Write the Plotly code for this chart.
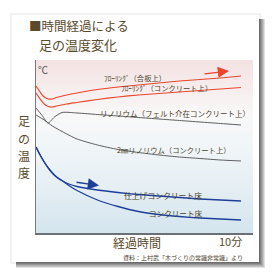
import plotly.graph_objects as go

# ---------------- data (time in minutes, temperature in relative units) ----------------
t_red1 = [0, 0.2, 0.4, 0.6, 0.8, 1.0, 1.5, 2, 3, 4, 5, 6, 7, 8, 9, 10]
v_red1 = [147, 141, 136, 134, 134, 135.5, 138, 140, 143.5, 146, 148, 150, 152, 153.5, 155, 157]

t_red2 = [0, 0.2, 0.4, 0.6, 0.8, 1.0, 1.5, 2, 3, 4, 5, 6, 7, 8, 9, 10]
v_red2 = [140, 134, 129, 126.5, 126, 127, 129, 130.5, 133.5, 136, 138, 139.5, 141, 142.5, 144, 145.5]

t_felt = [0, 0.3, 0.59, 0.9, 1.27, 2, 3, 4, 5, 6, 7, 8, 9, 10]
v_felt = [125, 117.5, 110, 116, 120.5, 120, 118.5, 117, 115.5, 114, 112.5, 111, 109.5, 108]

t_lino = [0, 0.4, 0.8, 1.5, 2, 3, 4, 5, 6, 7, 8, 9, 10]
v_lino = [118, 113, 107, 99, 94, 88, 83.5, 80.5, 78, 76, 74.5, 73, 72]

t_blue1 = [0, 0.2, 0.4, 0.6, 0.8, 1.0, 1.3, 1.6, 2, 3, 4, 5, 6, 7, 8, 9, 10]
v_blue1 = [86, 78, 71, 65, 60, 56, 52, 49, 46.5, 43, 40.5, 38.5, 37, 35.5, 34, 33, 32]

t_blue2 = [0, 0.2, 0.4, 0.6, 0.8, 1.0, 1.3, 1.6, 2, 3, 4, 5, 6, 7, 8, 9, 10]
v_blue2 = [86, 78, 71, 65, 60, 56, 52, 47.5, 42.5, 33, 26.5, 21.5, 18.5, 16.5, 15, 14, 13]

labels = ["ﾌﾛｰﾘﾝｸﾞ（合板上）", "ﾌﾛｰﾘﾝｸﾞ（コンクリート上）",
          "リノリウム（フェルト介在コンクリート上）", "2㎜リノリウム（コンクリート上）",
          "仕上げコンクリート床", "コンクリート床"]

title_lines = ["■時間経過による", "足の温度変化"]
y_title = "足の温度"
x_title = "経過時間"
x_end_label = "10分"
unit_label = "℃"
source_label = "資料：上村武「木づくりの常識非常識」より"

# ---------------- layout helpers ----------------
W, H = 272, 278
PL, PR, PT, PB = 36, 253, 60, 233          # plot area in pixels
X_PER_MIN = 20.5                            # pixels per minute
X_MAX = (PR - PL) / X_PER_MIN
Y_MAX = PB - PT

def px(x):
    return x / W

def py(y):
    return 1 - y / H

def dx(x):   # pixel -> data x
    return (x - PL) / X_PER_MIN

def dy(y):   # pixel -> data y
    return PB - y

FONT = "Noto Sans CJK JP"
TXT = "#4b4129"
TITLE_C = "#5a4a2c"

fig = go.Figure()

series = [
    (t_red1, v_red1, "#e8462d", 1.2),
    (t_red2, v_red2, "#e8462d", 1.2),
    (t_felt, v_felt, "#4d4d4d", 0.9),
    (t_lino, v_lino, "#4d4d4d", 0.9),
    (t_blue1, v_blue1, "#1d3f9a", 1.3),
    (t_blue2, v_blue2, "#1d3f9a", 1.3),
]
for t, v, c, w in series:
    fig.add_trace(go.Scatter(x=t, y=v, mode="lines",
                             line=dict(color=c, width=w, shape="spline", smoothing=0.7),
                             hoverinfo="skip", showlegend=False))

shapes = []
# shadow of card
shapes.append(dict(type="rect", xref="paper", yref="paper", layer="below",
                   x0=px(10), y0=py(13), x1=px(261), y1=py(264),
                   line=dict(width=0), fillcolor="rgba(0,0,0,0.05)"))
for k in range(6):
    shapes.append(dict(type="rect", xref="paper", yref="paper", layer="below",
                       x0=px(16), y0=py(19), x1=px(260 + k), y1=py(263 + k),
                       line=dict(width=0), fillcolor="rgba(0,0,0,0.12)"))
# card
shapes.append(dict(type="rect", xref="paper", yref="paper", layer="below",
                   x0=px(12), y0=py(15), x1=px(259), y1=py(262),
                   line=dict(width=0), fillcolor="white"))

# gradient background of the plot area
stops = [(60, (243, 226, 226)), (85, (246, 236, 236)), (115, (249, 248, 248)),
         (140, (242, 246, 248)), (180, (232, 240, 245)), (233, (212, 229, 238))]

def grad(yp):
    for (y0, c0), (y1, c1) in zip(stops[:-1], stops[1:]):
        if y0 <= yp <= y1:
            f = (yp - y0) / (y1 - y0)
            return "rgb(%d,%d,%d)" % tuple(round(a + (b - a) * f) for a, b in zip(c0, c1))
    return "rgb(%d,%d,%d)" % stops[-1][1]

step = 2
yy = PT
while yy < PB:
    shapes.append(dict(type="rect", xref="paper", yref="paper", layer="below",
                       x0=px(PL), x1=px(PR), y0=py(min(yy + step + 0.5, PB)), y1=py(yy),
                       line=dict(width=0), fillcolor=grad(yy + step / 2)))
    yy += step

annotations = []

def text(s, x, y, size, color=TXT, xanchor="center"):
    annotations.append(dict(text=s, x=px(x), y=py(y), xref="paper", yref="paper",
                            showarrow=False, xanchor=xanchor, yanchor="middle",
                            font=dict(family=FONT, size=size, color=color)))

# title
text(title_lines[0], 27, 25, 12.5, TITLE_C, xanchor="left")
text(title_lines[1], 37, 44, 13, TITLE_C, xanchor="left")
# axis texts
text(unit_label, 43, 69, 10, "#555555")
for ch, yc in zip(y_title, [121, 138, 155, 172]):
    text(ch, 24, yc, 12, TITLE_C)
text(x_title, 137, 242, 12, TITLE_C)
text(x_end_label, 230, 241, 11, TITLE_C)
text(source_label, 183, 257, 6, TXT)

# curve labels
label_pos = [(135, 78), (166, 87.5), (175, 113), (174, 150), (163, 195), (176, 213)]
label_size = [7.3, 7.3, 7.5, 7.3, 7.8, 7.6]
for s, (x, y), fs in zip(labels, label_pos, label_size):
    text(s, x, y, fs)

# arrows
for (tx, ty), (hx, hy), c in [((203, 74), (229, 71), "#e8462d"),
                              ((75, 182), (99, 185.5), "#1d3f9a")]:
    annotations.append(dict(x=dx(hx), y=dy(hy), ax=dx(tx), ay=dy(ty),
                            xref="x", yref="y", axref="x", ayref="y",
                            text="", showarrow=True, arrowhead=2, arrowsize=1.6,
                            arrowwidth=1.4, arrowcolor=c))

fig.update_layout(
    width=W, height=H, margin=dict(l=0, r=0, t=0, b=0),
    paper_bgcolor="white", plot_bgcolor="rgba(0,0,0,0)",
    shapes=shapes, annotations=annotations,
    xaxis=dict(domain=[px(PL), px(PR)], range=[0, X_MAX], showgrid=False, zeroline=False,
               showticklabels=False, ticks="", showline=True, linecolor="#6a7075", linewidth=1.5,
               fixedrange=True),
    yaxis=dict(domain=[py(PB), py(PT)], range=[0, Y_MAX], showgrid=False, zeroline=False,
               showticklabels=False, ticks="", showline=True, linecolor="#7a7a7a", linewidth=1,
               fixedrange=True),
)

fig.write_html("out.html", config={"displayModeBar": False})
